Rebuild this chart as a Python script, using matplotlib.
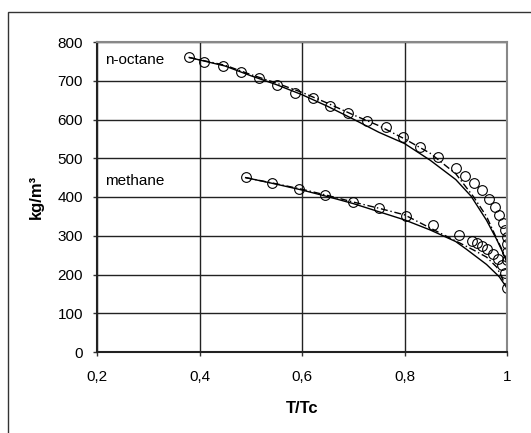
import matplotlib
matplotlib.use("Agg")
import matplotlib.pyplot as plt
from matplotlib.patches import Rectangle

plt.rcParams['font.family'] = ['Liberation Sans', 'DejaVu Sans']

# measured liquid densities (reduced temperature, kg/m3)
oct_T = [0.380, 0.409, 0.446, 0.481, 0.516, 0.551, 0.586, 0.621, 0.655, 0.690,
         0.727, 0.764, 0.797, 0.830, 0.865, 0.900, 0.918, 0.936, 0.951, 0.965,
         0.977, 0.984, 0.992, 0.996, 1.000, 1.000, 1.000, 1.000]
oct_rho = [762, 748, 738, 723, 707, 689, 668, 655, 636, 617,
           596, 581, 555, 529, 503, 475, 454, 436, 418, 395,
           374, 354, 333, 315, 297, 279, 258, 237]

meth_T = [0.491, 0.541, 0.594, 0.645, 0.700, 0.750, 0.803, 0.856, 0.906, 0.932,
          0.941, 0.951, 0.961, 0.973, 0.982, 0.990, 0.996, 1.000]
meth_rho = [452, 436, 421, 405, 387, 372, 351, 328, 302, 286,
            281, 274, 266, 253, 240, 225, 204, 165]

# model curves
oct_solid_T = [0.38, 0.45, 0.50, 0.55, 0.60, 0.65, 0.70, 0.75, 0.80, 0.85,
               0.90, 0.93, 0.96, 0.98, 0.99, 1.00]
oct_solid_rho = [760, 738, 713, 690, 664, 634, 601, 567, 538, 495,
                 445, 402, 340, 290, 262, 232]
oct_dash_T = [0.38, 0.45, 0.50, 0.55, 0.60, 0.65, 0.70, 0.75, 0.80, 0.85,
              0.90, 0.935, 0.96, 0.98, 0.99, 1.00]
oct_dash_rho = [760, 740, 716, 694, 670, 642, 612, 584, 550, 513,
                460, 400, 350, 292, 265, 232]

meth_solid_T = [0.49, 0.55, 0.60, 0.65, 0.70, 0.75, 0.80, 0.85, 0.90, 0.92,
                0.96, 0.985, 1.00]
meth_solid_rho = [450, 433, 418, 401, 383, 362, 341, 315, 285, 266,
                  226, 194, 165]
meth_dash_T = [0.49, 0.55, 0.60, 0.65, 0.70, 0.75, 0.80, 0.865, 0.935, 0.96,
               0.98, 1.00]
meth_dash_rho = [450, 434, 420, 404, 387, 371, 354, 310, 263, 245,
                 219, 165]

x_ticks = [0.2, 0.4, 0.6, 0.8, 1.0]
x_labels = ['0,2', '0,4', '0,6', '0,8', '1']
y_ticks = [0, 100, 200, 300, 400, 500, 600, 700, 800]

fig = plt.figure(figsize=(5.31, 4.33), dpi=100)

# outer chart frame, open to the right and bottom
fig.patches.append(Rectangle((8 / 531, -0.05), 1.2, (433 - 12) / 433 + 0.05,
                             transform=fig.transFigure, fill=False,
                             edgecolor='#333333', linewidth=1.0))

ax = fig.add_axes([97 / 531, 81 / 433, 410 / 531, 310 / 433])

ax.plot(oct_solid_T, oct_solid_rho, color='black', lw=1.0)
ax.plot(oct_dash_T, oct_dash_rho, color='black', lw=1.0, ls=(0, (5, 2, 1, 2)))
ax.plot(oct_T, oct_rho, ls='none', marker='o', ms=7, mfc='none',
        mec='black', mew=0.8)

ax.plot(meth_solid_T, meth_solid_rho, color='black', lw=1.0)
ax.plot(meth_dash_T, meth_dash_rho, color='black', lw=1.0, ls=(0, (5, 2, 1, 2)))
ax.plot(meth_T, meth_rho, ls='none', marker='o', ms=7, mfc='none',
        mec='black', mew=0.8)

ax.text(0.215, 742, 'n-octane', fontsize=11)
ax.text(0.215, 430, 'methane', fontsize=11)

ax.set_xlim(0.2, 1.0)
ax.set_ylim(0, 800)
ax.set_xticks(x_ticks)
ax.set_xticklabels(x_labels)
ax.set_yticks(y_ticks)
ax.tick_params(labelsize=11, length=3, width=1, color='#333333', pad=7)
ax.tick_params(axis='x', pad=10)
ax.grid(True, color='#222222', lw=1.0)
ax.set_axisbelow(True)

for side in ['left', 'bottom']:
    ax.spines[side].set_color('#222222')
    ax.spines[side].set_linewidth(1.5)
for side in ['top', 'right']:
    ax.spines[side].set_color('#888888')
    ax.spines[side].set_linewidth(1.5)

ax.set_xlabel('T/Tc', fontsize=12, fontweight='bold', labelpad=12)
ax.set_ylabel('kg/m³', fontsize=12, fontweight='bold', labelpad=10)

fig.savefig('out.png', dpi=100)
